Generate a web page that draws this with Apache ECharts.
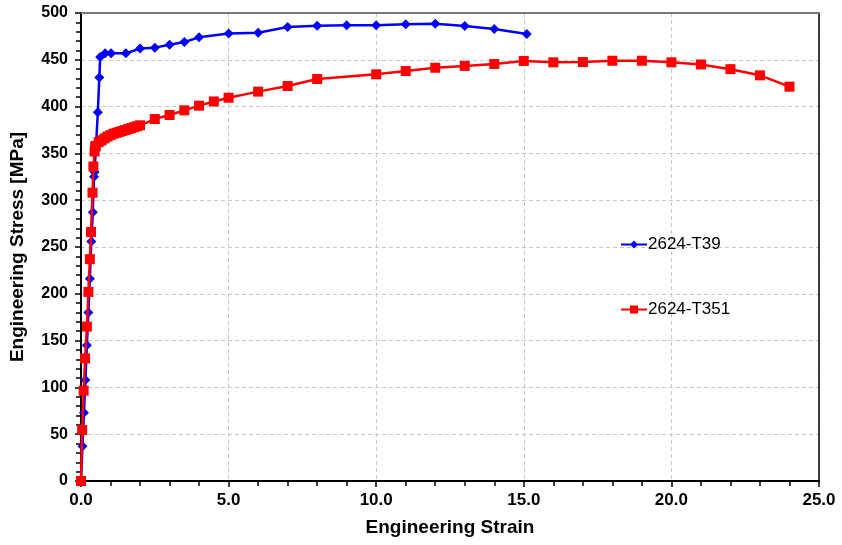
<!DOCTYPE html>
<html><head><meta charset="utf-8">
<script src="https://cdn.jsdelivr.net/npm/echarts@6/dist/echarts.min.js"></script>
<style>html,body{margin:0;padding:0;background:#fff}#c{width:842px;height:545px}</style>
</head><body><div id="c"></div>
<script>
const seriesNames = ['2624-T39', '2624-T351'];
const t39Strain = [0, 0.05, 0.1, 0.15, 0.2, 0.25, 0.3, 0.35, 0.4, 0.44, 0.46, 0.57, 0.62, 0.65, 0.82, 1.02, 1.52, 2.0, 2.5, 3.0, 3.5, 4.0, 5.0, 6.0, 7.0, 8.0, 9.0, 10.0, 11.0, 12.0, 13.0, 14.0, 15.1];
const t39Stress = [0, 37, 73, 108, 145, 180, 216, 256, 287, 325, 330, 394, 431, 453, 457, 457, 457, 462, 463, 466, 469, 474, 478, 479, 485, 486.5, 487, 487, 488, 488.5, 486, 483, 477.5];
const t351Strain = [0, 0.04, 0.09, 0.14, 0.2, 0.25, 0.3, 0.34, 0.39, 0.42, 0.46, 0.48, 0.5, 0.6, 0.7, 0.8, 0.9, 1.0, 1.1, 1.2, 1.3, 1.4, 1.5, 1.6, 1.7, 1.8, 1.9, 2.0, 2.5, 3.0, 3.5, 4.0, 4.5, 5.0, 6.0, 7.0, 8.0, 10.0, 11.0, 12.0, 13.0, 14.0, 15.0, 16.0, 17.0, 18.0, 19.0, 20.0, 21.0, 22.0, 23.0, 24.0];
const t351Stress = [0, 54.5, 96.5, 131, 165, 202, 237, 266, 308, 336, 352, 357, 358, 362, 364, 366, 368, 369.5, 371, 372, 373, 374, 375, 376, 377, 378, 379, 380, 386.7, 391, 396, 401, 405.5, 409.5, 416, 422, 429.5, 434.5, 438, 441.5, 443.5, 445.5, 448.7, 447.3, 447.6, 449, 449, 447.3, 445, 440, 433.4, 421.3];
const xTicks = [0, 5, 10, 15, 20, 25];
const yTicks = [0, 50, 100, 150, 200, 250, 300, 350, 400, 450, 500];

const zip = (a, b) => a.map((v, i) => [v, b[i]]);
const font = 'Liberation Sans, Arial, sans-serif';
const xMin = xTicks[0], xMax = xTicks[xTicks.length - 1];
const yMin = yTicks[0], yMax = yTicks[yTicks.length - 1];
const chart = echarts.init(document.getElementById('c'));
chart.setOption({
  animation: false,
  backgroundColor: '#fff',
  grid: { left: 81, right: 23, top: 13, bottom: 64, show: false, containLabel: false, outerBoundsMode: 'none' },
  legend: {
    orient: 'vertical', left: 615, top: 231, itemGap: 48, itemWidth: 26, itemHeight: 10,
    textStyle: { fontFamily: font, fontSize: 17, color: '#000', padding: [0, 0, 0, -4] },
    data: seriesNames
  },
  xAxis: [{
    type: 'value', min: xMin, max: xMax, interval: 5,
    name: 'Engineering Strain', nameLocation: 'middle', nameGap: 37,
    nameTextStyle: { fontFamily: font, fontSize: 19, fontWeight: 'bold', color: '#000' },
    axisLine: { onZero: false, lineStyle: { color: '#000', width: 2 } },
    axisTick: { show: true, length: 6, inside: false, lineStyle: { color: '#000', width: 1.5 } },
    minorTick: { show: true, splitNumber: 5, length: 5, lineStyle: { color: '#000', width: 1.5 } },
    axisLabel: { fontFamily: font, fontSize: 17, fontWeight: 'bold', color: '#000', margin: 11, formatter: v => v.toFixed(1) },
    splitLine: { show: true, lineStyle: { color: '#c8c8c8', type: [4, 3], width: 1 } }
  }, {
    type: 'value', position: 'top', min: xMin, max: xMax, interval: 5,
    axisLine: { show: true, onZero: false, lineStyle: { color: '#777', width: 2 } },
    axisTick: { show: false }, axisLabel: { show: false }, splitLine: { show: false }
  }],
  yAxis: [{
    type: 'value', min: yMin, max: yMax, interval: 50,
    name: 'Engineering Stress [MPa]', nameLocation: 'middle', nameGap: 54,
    nameTextStyle: { fontFamily: font, fontSize: 19, fontWeight: 'bold', color: '#000' },
    axisLine: { onZero: false, lineStyle: { color: '#000', width: 2 } },
    axisTick: { show: true, length: 6, inside: false, lineStyle: { color: '#000', width: 1.5 } },
    minorTick: { show: true, splitNumber: 5, length: 5, lineStyle: { color: '#000', width: 1.5 } },
    axisLabel: { fontFamily: font, fontSize: 16, fontWeight: 'bold', color: '#000', margin: 13 },
    splitLine: { show: true, lineStyle: { color: '#c8c8c8', type: [4, 3], width: 1 } }
  }, {
    type: 'value', position: 'right', min: yMin, max: yMax, interval: 50,
    axisLine: { show: true, onZero: false, lineStyle: { color: '#000', width: 1.5 } },
    axisTick: { show: false }, axisLabel: { show: false }, splitLine: { show: false }
  }],
  series: [
    {
      name: seriesNames[0], type: 'line', data: zip(t39Strain, t39Stress),
      symbol: 'diamond', symbolSize: 10, z: 2,
      lineStyle: { color: '#0000ff', width: 2.5 }, itemStyle: { color: '#0000ff' }
    },
    {
      name: seriesNames[1], type: 'line', data: zip(t351Strain, t351Stress),
      symbol: 'rect', symbolSize: 10, z: 3,
      lineStyle: { color: '#ff0000', width: 2.5 }, itemStyle: { color: '#ff0000' }
    }
  ]
});
</script></body></html>
